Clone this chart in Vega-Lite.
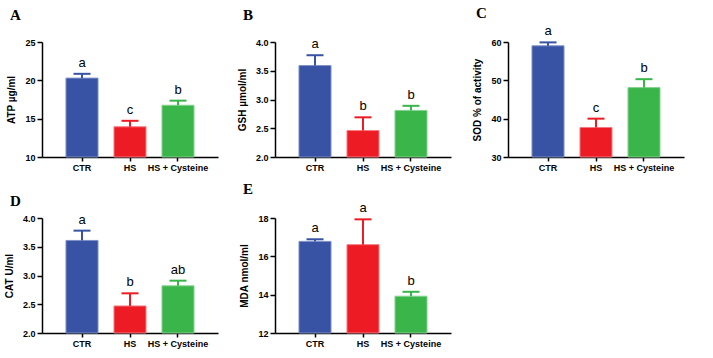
{
  "$schema": "https://vega.github.io/schema/vega-lite/v6.json",
  "background": "white",
  "padding": {"left": 4, "top": 6, "right": 5, "bottom": 5},
  "datasets": {
    "d": [
      {"panel": "A", "group": "CTR", "value": 20.29, "upper": 20.85, "letter": "a"},
      {"panel": "A", "group": "HS", "value": 13.94, "upper": 14.72, "letter": "c"},
      {"panel": "A", "group": "HS + Cysteine", "value": 16.75, "upper": 17.35, "letter": "b"},
      {"panel": "B", "group": "CTR", "value": 3.59, "upper": 3.77, "letter": "a"},
      {"panel": "B", "group": "HS", "value": 2.46, "upper": 2.69, "letter": "b"},
      {"panel": "B", "group": "HS + Cysteine", "value": 2.81, "upper": 2.89, "letter": "b"},
      {"panel": "C", "group": "CTR", "value": 59.0, "upper": 59.9, "letter": "a"},
      {"panel": "C", "group": "HS", "value": 37.7, "upper": 40.0, "letter": "c"},
      {"panel": "C", "group": "HS + Cysteine", "value": 48.1, "upper": 50.3, "letter": "b"},
      {"panel": "D", "group": "CTR", "value": 3.61, "upper": 3.78, "letter": "a"},
      {"panel": "D", "group": "HS", "value": 2.47, "upper": 2.69, "letter": "b"},
      {"panel": "D", "group": "HS + Cysteine", "value": 2.82, "upper": 2.91, "letter": "ab"},
      {"panel": "E", "group": "CTR", "value": 16.78, "upper": 16.89, "letter": "a"},
      {"panel": "E", "group": "HS", "value": 16.61, "upper": 17.93, "letter": "a"},
      {"panel": "E", "group": "HS + Cysteine", "value": 13.92, "upper": 14.15, "letter": "b"}
    ]
  },
  "data": {"name": "d"},
  "bounds": "flush",
  "columns": 3,
  "spacing": {"row": 61, "column": 57},
  "concat": [
    {
      "width": 176, "height": 115,
      "title": {"text": "A", "dx": -32, "offset": 15},
      "transform": [{"filter": "datum.panel === 'A'"}],
      "encoding": {
        "x": {"field": "group", "type": "nominal", "sort": ["CTR", "HS", "HS + Cysteine"], "scale": {"paddingInner": 0.333, "paddingOuter": 0.5}, "axis": {"title": null}},
        "color": {"field": "group", "type": "nominal", "scale": {"domain": ["CTR", "HS", "HS + Cysteine"], "range": ["#3853a4", "#ed1c24", "#39b54a"]}, "legend": null}
      },
      "layer": [
        {"mark": {"type": "bar", "strokeWidth": 1, "opacity": 1}, "encoding": {"y": {"field": "value", "type": "quantitative", "scale": {"domain": [10, 25], "nice": false, "zero": false}, "axis": {"title": "ATP µg/ml", "values": [10, 15, 20, 25], "format": "d", "tickCount": 20, "labelOverlap": false}}, "y2": {"datum": 10}, "stroke": {"field": "group", "type": "nominal", "scale": {"domain": ["CTR", "HS", "HS + Cysteine"], "range": ["#7d8fc6", "#f37a80", "#86d18f"]}, "legend": null}}},
        {"mark": {"type": "rule", "strokeWidth": 2}, "encoding": {"y": {"field": "value", "type": "quantitative"}, "y2": {"field": "upper"}}},
        {"mark": {"type": "tick", "thickness": 2, "size": 17, "opacity": 1}, "encoding": {"y": {"field": "upper", "type": "quantitative"}}},
        {"mark": {"type": "text", "dy": -4, "baseline": "bottom", "font": "Liberation Sans", "fontSize": 13}, "encoding": {"y": {"field": "upper", "type": "quantitative"}, "text": {"field": "letter"}, "color": {"value": "#000"}}}
      ]
    },
    {
      "width": 176, "height": 115,
      "title": {"text": "B", "dx": -32, "offset": 15},
      "transform": [{"filter": "datum.panel === 'B'"}],
      "encoding": {
        "x": {"field": "group", "type": "nominal", "sort": ["CTR", "HS", "HS + Cysteine"], "scale": {"paddingInner": 0.333, "paddingOuter": 0.5}, "axis": {"title": null}},
        "color": {"field": "group", "type": "nominal", "scale": {"domain": ["CTR", "HS", "HS + Cysteine"], "range": ["#3853a4", "#ed1c24", "#39b54a"]}, "legend": null}
      },
      "layer": [
        {"mark": {"type": "bar", "strokeWidth": 1, "opacity": 1}, "encoding": {"y": {"field": "value", "type": "quantitative", "scale": {"domain": [2, 4], "nice": false, "zero": false}, "axis": {"title": "GSH µmol/ml", "values": [2, 2.5, 3, 3.5, 4], "format": ".1f", "tickCount": 20, "labelOverlap": false}}, "y2": {"datum": 2}, "stroke": {"field": "group", "type": "nominal", "scale": {"domain": ["CTR", "HS", "HS + Cysteine"], "range": ["#7d8fc6", "#f37a80", "#86d18f"]}, "legend": null}}},
        {"mark": {"type": "rule", "strokeWidth": 2}, "encoding": {"y": {"field": "value", "type": "quantitative"}, "y2": {"field": "upper"}}},
        {"mark": {"type": "tick", "thickness": 2, "size": 17, "opacity": 1}, "encoding": {"y": {"field": "upper", "type": "quantitative"}}},
        {"mark": {"type": "text", "dy": -4, "baseline": "bottom", "font": "Liberation Sans", "fontSize": 13}, "encoding": {"y": {"field": "upper", "type": "quantitative"}, "text": {"field": "letter"}, "color": {"value": "#000"}}}
      ]
    },
    {
      "width": 176, "height": 115,
      "title": {"text": "C", "dx": -32, "offset": 4},
      "transform": [{"filter": "datum.panel === 'C'"}],
      "encoding": {
        "x": {"field": "group", "type": "nominal", "sort": ["CTR", "HS", "HS + Cysteine"], "scale": {"paddingInner": 0.333, "paddingOuter": 0.5}, "axis": {"title": null}},
        "color": {"field": "group", "type": "nominal", "scale": {"domain": ["CTR", "HS", "HS + Cysteine"], "range": ["#3853a4", "#ed1c24", "#39b54a"]}, "legend": null}
      },
      "layer": [
        {"mark": {"type": "bar", "strokeWidth": 1, "opacity": 1}, "encoding": {"y": {"field": "value", "type": "quantitative", "scale": {"domain": [30, 60], "nice": false, "zero": false}, "axis": {"title": "SOD % of activity", "values": [30, 40, 50, 60], "format": "d", "tickCount": 20, "labelOverlap": false}}, "y2": {"datum": 30}, "stroke": {"field": "group", "type": "nominal", "scale": {"domain": ["CTR", "HS", "HS + Cysteine"], "range": ["#7d8fc6", "#f37a80", "#86d18f"]}, "legend": null}}},
        {"mark": {"type": "rule", "strokeWidth": 2}, "encoding": {"y": {"field": "value", "type": "quantitative"}, "y2": {"field": "upper"}}},
        {"mark": {"type": "tick", "thickness": 2, "size": 17, "opacity": 1}, "encoding": {"y": {"field": "upper", "type": "quantitative"}}},
        {"mark": {"type": "text", "dy": -4, "baseline": "bottom", "font": "Liberation Sans", "fontSize": 13}, "encoding": {"y": {"field": "upper", "type": "quantitative"}, "text": {"field": "letter"}, "color": {"value": "#000"}}}
      ]
    },
    {
      "width": 176, "height": 115,
      "title": {"text": "D", "dx": -32, "offset": 5},
      "transform": [{"filter": "datum.panel === 'D'"}],
      "encoding": {
        "x": {"field": "group", "type": "nominal", "sort": ["CTR", "HS", "HS + Cysteine"], "scale": {"paddingInner": 0.333, "paddingOuter": 0.5}, "axis": {"title": null}},
        "color": {"field": "group", "type": "nominal", "scale": {"domain": ["CTR", "HS", "HS + Cysteine"], "range": ["#3853a4", "#ed1c24", "#39b54a"]}, "legend": null}
      },
      "layer": [
        {"mark": {"type": "bar", "strokeWidth": 1, "opacity": 1}, "encoding": {"y": {"field": "value", "type": "quantitative", "scale": {"domain": [2, 4], "nice": false, "zero": false}, "axis": {"title": "CAT U/ml", "values": [2, 2.5, 3, 3.5, 4], "format": ".1f", "tickCount": 20, "labelOverlap": false}}, "y2": {"datum": 2}, "stroke": {"field": "group", "type": "nominal", "scale": {"domain": ["CTR", "HS", "HS + Cysteine"], "range": ["#7d8fc6", "#f37a80", "#86d18f"]}, "legend": null}}},
        {"mark": {"type": "rule", "strokeWidth": 2}, "encoding": {"y": {"field": "value", "type": "quantitative"}, "y2": {"field": "upper"}}},
        {"mark": {"type": "tick", "thickness": 2, "size": 17, "opacity": 1}, "encoding": {"y": {"field": "upper", "type": "quantitative"}}},
        {"mark": {"type": "text", "dy": -4, "baseline": "bottom", "font": "Liberation Sans", "fontSize": 13}, "encoding": {"y": {"field": "upper", "type": "quantitative"}, "text": {"field": "letter"}, "color": {"value": "#000"}}}
      ]
    },
    {
      "width": 176, "height": 115,
      "title": {"text": "E", "dx": -32, "offset": 5},
      "transform": [{"filter": "datum.panel === 'E'"}],
      "encoding": {
        "x": {"field": "group", "type": "nominal", "sort": ["CTR", "HS", "HS + Cysteine"], "scale": {"paddingInner": 0.333, "paddingOuter": 0.5}, "axis": {"title": null}},
        "color": {"field": "group", "type": "nominal", "scale": {"domain": ["CTR", "HS", "HS + Cysteine"], "range": ["#3853a4", "#ed1c24", "#39b54a"]}, "legend": null}
      },
      "layer": [
        {"mark": {"type": "bar", "strokeWidth": 1, "opacity": 1}, "encoding": {"y": {"field": "value", "type": "quantitative", "scale": {"domain": [12, 18], "nice": false, "zero": false}, "axis": {"title": "MDA nmol/ml", "values": [12, 14, 16, 18], "format": "d", "tickCount": 20, "labelOverlap": false}}, "y2": {"datum": 12}, "stroke": {"field": "group", "type": "nominal", "scale": {"domain": ["CTR", "HS", "HS + Cysteine"], "range": ["#7d8fc6", "#f37a80", "#86d18f"]}, "legend": null}}},
        {"mark": {"type": "rule", "strokeWidth": 2}, "encoding": {"y": {"field": "value", "type": "quantitative"}, "y2": {"field": "upper"}}},
        {"mark": {"type": "tick", "thickness": 2, "size": 17, "opacity": 1}, "encoding": {"y": {"field": "upper", "type": "quantitative"}}},
        {"mark": {"type": "text", "dy": -4, "baseline": "bottom", "font": "Liberation Sans", "fontSize": 13}, "encoding": {"y": {"field": "upper", "type": "quantitative"}, "text": {"field": "letter"}, "color": {"value": "#000"}}}
      ]
    }
  ],
  "config": {
    "view": {"stroke": null},
    "axis": {"labelFont": "Liberation Sans", "labelFontWeight": "bold", "labelFontSize": 9, "labelColor": "#000", "titleFont": "Liberation Sans", "titleFontWeight": "bold", "titleFontSize": 10, "titleColor": "#000", "domainColor": "#000", "tickColor": "#000", "domainWidth": 1.5, "tickWidth": 1.5, "tickSize": 5, "grid": false},
    "axisX": {"labelAngle": 0, "tickSize": 4, "labelPadding": 2},
    "axisY": {"labelPadding": 2, "titlePadding": 8},
    "title": {"font": "Liberation Serif", "fontSize": 15, "fontWeight": "bold", "anchor": "start", "frame": "group", "baseline": "alphabetic", "color": "#000"}
  }
}
